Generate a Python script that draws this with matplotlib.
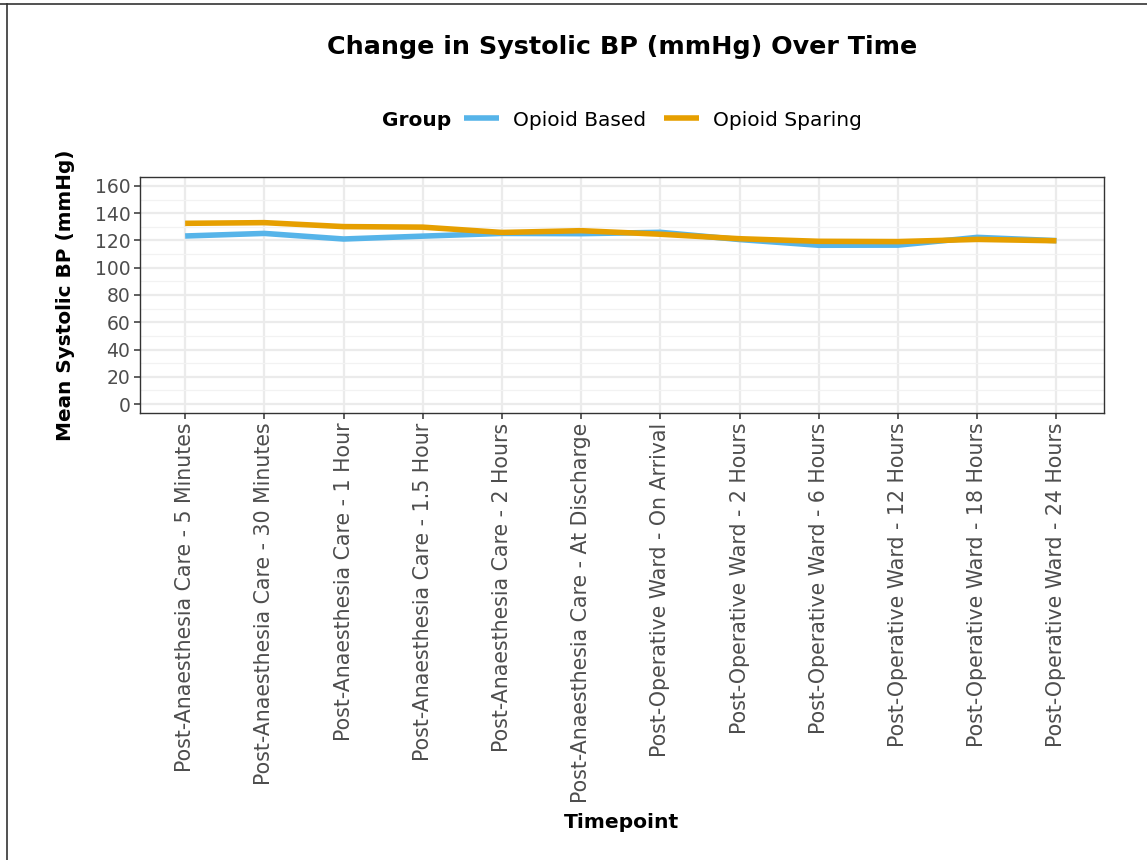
import matplotlib
matplotlib.use('Agg')
import matplotlib.pyplot as plt
from matplotlib.lines import Line2D
import numpy as np

timepoints = [
    'Post-Anaesthesia Care - 5 Minutes',
    'Post-Anaesthesia Care - 30 Minutes',
    'Post-Anaesthesia Care - 1 Hour',
    'Post-Anaesthesia Care - 1.5 Hour',
    'Post-Anaesthesia Care - 2 Hours',
    'Post-Anaesthesia Care - At Discharge',
    'Post-Operative Ward - On Arrival',
    'Post-Operative Ward - 2 Hours',
    'Post-Operative Ward - 6 Hours',
    'Post-Operative Ward - 12 Hours',
    'Post-Operative Ward - 18 Hours',
    'Post-Operative Ward - 24 Hours',
]
opioid_based = [123.3, 125.2, 121.1, 123.2, 125.2, 125.0, 126.0, 120.7, 116.5, 116.6, 122.3, 119.9]
opioid_sparing = [132.6, 133.1, 130.2, 129.8, 125.9, 127.2, 124.6, 121.3, 119.4, 119.2, 120.8, 119.8]
y_ticks = [0, 20, 40, 60, 80, 100, 120, 140, 160]

blue = '#56B4E9'
orange = '#E69F00'
tick_grey = '#4D4D4D'

W, H = 1147, 860
fig = plt.figure(figsize=(W / 100, H / 100), dpi=100)
ax = fig.add_axes([140 / W, 1 - 413 / H, (1104 - 140) / W, (413 - 177) / H])

x = np.arange(len(timepoints))
ax.plot(x, opioid_based, color=blue, lw=4, label='Opioid Based', solid_capstyle='butt', zorder=3)
ax.plot(x, opioid_sparing, color=orange, lw=4, label='Opioid Sparing', solid_capstyle='butt', zorder=3)

ax.set_xlim(-0.57, len(timepoints) - 1 + 0.6)
ax.set_ylim(-6.6, 166.6)
ax.set_xticks(x)
ax.set_xticklabels(timepoints, rotation=90, fontsize=14.8, color=tick_grey)
ax.set_yticks(y_ticks)
ax.set_yticklabels([str(v) for v in y_ticks], fontsize=13.5, color=tick_grey)
ax.set_yticks(np.arange(10, 170, 20), minor=True)

ax.grid(True, which='major', color='#EBEBEB', lw=1.6, zorder=0)
ax.grid(True, which='minor', axis='y', color='#F2F2F2', lw=0.9, zorder=0)
ax.set_axisbelow(True)
ax.tick_params(axis='both', which='major', length=4, width=1.1, color='#333333', pad=3)
ax.tick_params(axis='y', which='minor', length=0)
for s in ax.spines.values():
    s.set_color('#333333')
    s.set_linewidth(1.0)

ax.set_xlabel('Timepoint', fontsize=14.6, fontweight='bold', va='center')
ax.xaxis.set_label_coords(0.5, -(823 - 413) / 236)
ax.set_ylabel('Mean Systolic BP (mmHg)', fontsize=14.4, fontweight='bold', va='center')
ax.yaxis.set_label_coords((66 - 140) / 964, (413 - 295) / 236)

fig.text(622 / W, 1 - 47 / H, 'Change in Systolic BP (mmHg) Over Time',
         ha='center', va='center', fontsize=18.3, fontweight='bold')

# legend: bold title to the left of a horizontal row of keys
fig.text(382 / W, 1 - 120 / H, 'Group', ha='left', va='center', fontsize=14.5, fontweight='bold')
handles, labels = ax.get_legend_handles_labels()
fig.legend(handles, labels, loc='center left', bbox_to_anchor=(464 / W, 1 - 120 / H),
           ncol=2, frameon=False, fontsize=14.5, handlelength=1.75, handletextpad=0.7,
           columnspacing=0.85, borderpad=0, borderaxespad=0)

# screenshot frame lines (top and left)
fig.add_artist(Line2D([0, 1], [1 - 4 / H, 1 - 4 / H], transform=fig.transFigure, color='#333333', lw=1.2))
fig.add_artist(Line2D([7 / W, 7 / W], [0, 1 - 4 / H], transform=fig.transFigure, color='#333333', lw=1.2))

fig.savefig('out.png', dpi=100)
